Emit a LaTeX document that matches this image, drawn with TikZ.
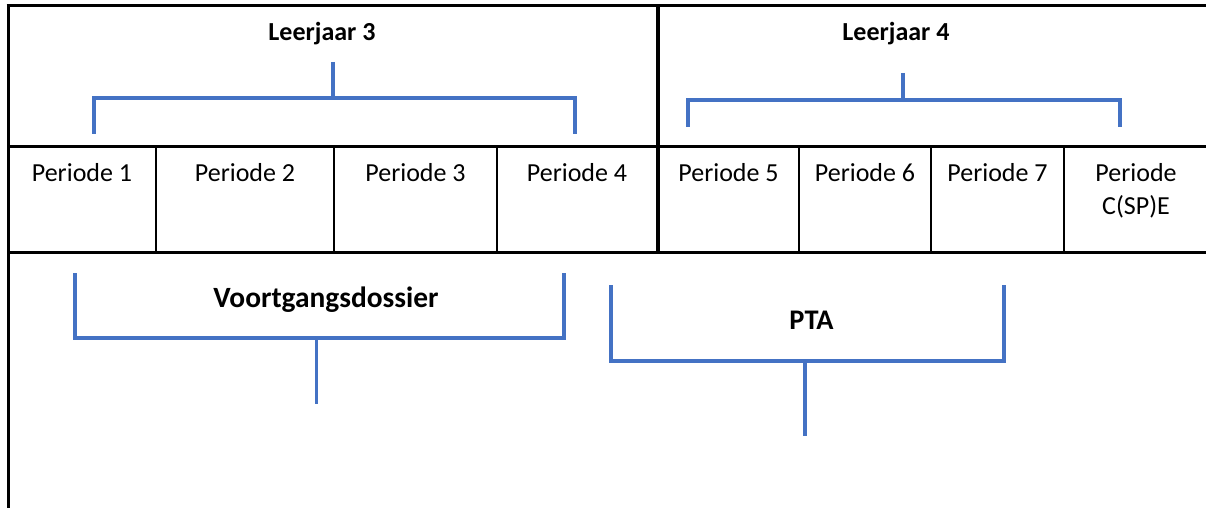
\documentclass[tikz,border=0pt]{standalone}
\usepackage{fontspec}
\setmainfont{Carlito}
\definecolor{wblue}{HTML}{4472C4}
\begin{document}
\begin{tikzpicture}[x=0.5pt,y=-0.5pt,
  rule/.style={draw=black,line width=1.5pt},
  cellrule/.style={draw=black,line width=0.8pt},
  brk/.style={draw=wblue,line width=1.75pt},
  lbl/.style={anchor=base,inner sep=0pt,font=\fontsize{13}{15.9}\selectfont},
  blbl/.style={anchor=base,inner sep=0pt,font=\fontsize{13}{15.9}\selectfont\bfseries}]
\useasboundingbox (0,0) rectangle (1206,508);
% frame and table rules
\draw[rule] (6.5,5.5) -- (1206,5.5);
\draw[rule] (8,4.5) -- (8,508);
\draw[rule] (8,146.5) -- (1206,146.5);
\draw[rule] (8,252.5) -- (1206,252.5);
\draw[rule,line width=2pt] (658,5) -- (658,253);
\foreach \x in {156,334,497,799,931,1064}
  \draw[cellrule] (\x,147) -- (\x,252);
% headings
\node[blbl] (l3) at (322,41) {Leerjaar 3};
\node[blbl] (l4) at (896,41) {Leerjaar 4};
% periods
\node[lbl] (p1) at (82,182) {Periode 1};
\node[lbl] (p2) at (245,182) {Periode 2};
\node[lbl] (p3) at (415.5,182) {Periode 3};
\node[lbl] (p4) at (577,182) {Periode 4};
\node[lbl] (p5) at (728.5,182) {Periode 5};
\node[lbl] (p6) at (865,182) {Periode 6};
\node[lbl] (p7) at (997.5,182) {Periode 7};
\node[lbl] (p8a) at (1136,182) {Periode};
\node[lbl] (p8b) at (1136,214) {C(SP)E};
% lower labels
\node[blbl,font=\fontsize{14.7}{18}\selectfont\bfseries] (vd) at (326,307) {Voortgangsdossier};
\node[blbl,font=\fontsize{14.2}{17}\selectfont\bfseries] (pta) at (811.5,329) {PTA};
% brackets top
\coordinate (b3s) at (333,62);
\coordinate (b3m) at (333,98);
\draw[brk] (94,134) -- (94,98) -- (575,98) -- (575,134);
\draw[brk] (b3s) -- (b3m);
\coordinate (b4s) at (903,73);
\coordinate (b4m) at (903,100);
\draw[brk] (688,127) -- (688,100) -- (1120,100) -- (1120,127);
\draw[brk] (b4s) -- (b4m);
% brackets bottom
\coordinate (vdm) at (316.5,338);
\coordinate (vde) at (316.5,404);
\draw[brk] (75,273) -- (75,338) -- (564,338) -- (564,273);
\draw[brk] (vdm) -- (vde);
\coordinate (ptm) at (805,361);
\coordinate (pte) at (805,436);
\draw[brk] (611,285) -- (611,361) -- (1004,361) -- (1004,285);
\draw[brk] (ptm) -- (pte);
\end{tikzpicture}
\end{document}
